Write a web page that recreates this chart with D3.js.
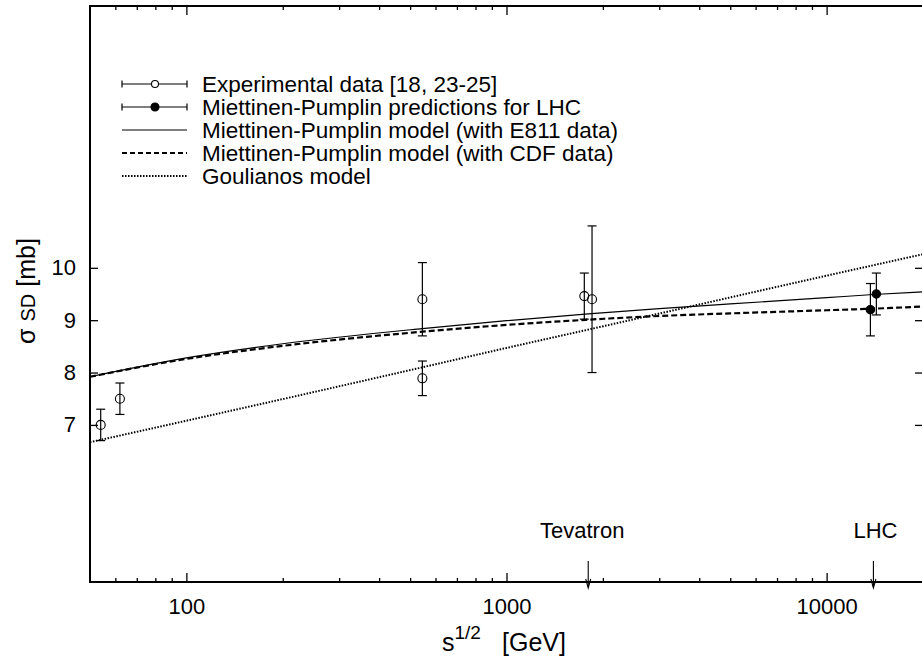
<!DOCTYPE html>
<html><head><meta charset="utf-8">
<script src="https://cdn.jsdelivr.net/npm/d3@7"></script>
<style>
body{margin:0;background:#fff}
svg{display:block}
text{font-family:"Liberation Sans",Arial,Helvetica,sans-serif;fill:#000}
</style>
</head><body>
<svg id="chart" width="922" height="663"></svg>
<script>
// ---------- data ----------
const xDomain = [50, 20000];
const yDomain = [4, 15];
const xMajorTicks = [100, 1000, 10000];
const xTickLabels = ["100", "1000", "10000"];
const xMinorTicks = [60, 70, 80, 90, 200, 300, 400, 500, 600, 700, 800, 900,
                     2000, 3000, 4000, 5000, 6000, 7000, 8000, 9000];
const yTicks = [7, 8, 9, 10];
const yTickLabels = ["7", "8", "9", "10"];

// Experimental data (open circles)
const expX   = [54, 62, 546, 546, 1750, 1850];
const expY   = [7.0, 7.5, 9.4, 7.89, 9.46, 9.4];
const expErr = [0.3, 0.3, 0.7, 0.33, 0.44, 1.4];

// Miettinen-Pumplin predictions for LHC (filled circles)
const lhcX   = [13700, 14300];
const lhcY   = [9.2, 9.5];
const lhcErr = [0.5, 0.4];

// Model curves
const mpE811X = [50, 100, 200, 546, 1000, 1800, 3000, 5000, 10000, 14000, 20000];
const mpE811Y = [7.92, 8.28, 8.55, 8.84, 8.99, 9.12, 9.22, 9.31, 9.43, 9.49, 9.54];
const mpCdfX  = [50, 100, 200, 546, 1000, 1800, 3000, 5000, 10000, 14000, 20000];
const mpCdfY  = [7.92, 8.26, 8.51, 8.78, 8.91, 9.01, 9.08, 9.13, 9.19, 9.22, 9.26];
const goulX   = [50, 100, 546, 1000, 1800, 10000, 20000];
const goulY   = [6.67, 7.08, 8.10, 8.47, 8.82, 9.85, 10.26];

const legendLabels = [
  "Experimental data [18, 23-25]",
  "Miettinen-Pumplin predictions for LHC",
  "Miettinen-Pumplin model (with E811 data)",
  "Miettinen-Pumplin model (with CDF data)",
  "Goulianos model"
];
const arrowLabels = ["Tevatron", "LHC"];
const arrowX = [1800, 14000];

// ---------- drawing ----------
const svg = d3.select("#chart");
const L = 90, R = 923, T = 6, B = 582;
const x = d3.scaleLog().domain(xDomain).range([L, R]);
const y = d3.scaleLinear().domain(yDomain).range([B, T]);

const FONT = '"Liberation Sans",Arial,Helvetica,sans-serif';
const TICKFS = 22;

function styleAxis(g, fs) {
  g.attr("font-family", FONT).attr("font-size", fs);
  g.select(".domain").remove();
  g.selectAll(".tick line").attr("stroke", "#000").attr("stroke-width", 1.3);
  g.selectAll(".tick text").attr("fill", "#000");
}

// bottom axis major
svg.append("g").attr("transform", `translate(0,${B})`)
  .call(d3.axisBottom(x).tickValues(xMajorTicks).tickFormat((d, i) => xTickLabels[i])
        .tickSizeInner(-9).tickSizeOuter(0).tickPadding(16))
  .call(g => styleAxis(g, TICKFS));
svg.append("g").attr("transform", `translate(0,${B})`)
  .call(d3.axisBottom(x).tickValues(xMinorTicks).tickFormat("").tickSizeInner(-4).tickSizeOuter(0))
  .call(g => styleAxis(g, TICKFS));
// top axis
svg.append("g").attr("transform", `translate(0,${T})`)
  .call(d3.axisTop(x).tickValues(xMajorTicks).tickFormat("").tickSizeInner(-9).tickSizeOuter(0))
  .call(g => styleAxis(g, TICKFS));
svg.append("g").attr("transform", `translate(0,${T})`)
  .call(d3.axisTop(x).tickValues(xMinorTicks).tickFormat("").tickSizeInner(-4).tickSizeOuter(0))
  .call(g => styleAxis(g, TICKFS));
// left axis
svg.append("g").attr("transform", `translate(${L},0)`)
  .call(d3.axisLeft(y).tickValues(yTicks).tickFormat((d, i) => yTickLabels[i])
        .tickSizeInner(-8).tickSizeOuter(0).tickPadding(14))
  .call(g => styleAxis(g, TICKFS));
// right axis
svg.append("g").attr("transform", `translate(${R},0)`)
  .call(d3.axisRight(y).tickValues(yTicks).tickFormat("").tickSizeInner(-8).tickSizeOuter(0))
  .call(g => styleAxis(g, TICKFS));

// frame
svg.append("rect").attr("x", L).attr("y", T).attr("width", R - L).attr("height", B - T)
  .attr("fill", "none").attr("stroke", "#000").attr("stroke-width", 2);

// curves
const line = d3.line().x(d => x(d[0])).y(d => y(d[1])).curve(d3.curveMonotoneX);
const plot = svg.append("g");
plot.append("path").datum(goulX.map((v, i) => [v, goulY[i]]))
  .attr("d", line).attr("fill", "none").attr("stroke", "#000")
  .attr("stroke-width", 2).attr("stroke-dasharray", "1.5,1.5");
plot.append("path").datum(mpE811X.map((v, i) => [v, mpE811Y[i]]))
  .attr("d", line).attr("fill", "none").attr("stroke", "#000").attr("stroke-width", 1.2);
plot.append("path").datum(mpCdfX.map((v, i) => [v, mpCdfY[i]]))
  .attr("d", line).attr("fill", "none").attr("stroke", "#000")
  .attr("stroke-width", 2.2).attr("stroke-dasharray", "6,3");

// error bars + points
function errPoints(xs, ys, es, filled) {
  const data = xs.map((v, i) => ({x: v, y: ys[i], e: es[i]}));
  const g = plot.append("g");
  const eb = g.selectAll(".eb").data(data).enter().append("g");
  eb.append("line").attr("x1", d => x(d.x)).attr("x2", d => x(d.x))
    .attr("y1", d => y(d.y + d.e)).attr("y2", d => y(d.y - d.e))
    .attr("stroke", "#000").attr("stroke-width", 1.2);
  [1, -1].forEach(s => {
    eb.append("line").attr("x1", d => x(d.x) - 4.5).attr("x2", d => x(d.x) + 4.5)
      .attr("y1", d => y(d.y + s * d.e)).attr("y2", d => y(d.y + s * d.e))
      .attr("stroke", "#000").attr("stroke-width", 1.2);
  });
  eb.append("circle").attr("cx", d => x(d.x)).attr("cy", d => y(d.y))
    .attr("r", filled ? 4.2 : 4.5)
    .attr("fill", filled ? "#000" : "none").attr("stroke", "#000").attr("stroke-width", 1.1);
}
errPoints(expX, expY, expErr, false);
errPoints(lhcX, lhcY, lhcErr, true);

// arrows
arrowX.forEach((v, i) => {
  const ax = x(v);
  svg.append("line").attr("x1", ax).attr("x2", ax).attr("y1", 561).attr("y2", 587)
    .attr("stroke", "#000").attr("stroke-width", 1.1);
  svg.append("path").attr("d", `M${ax - 2.5},${579} L${ax},${588} L${ax + 2.5},${579}`)
    .attr("fill", "none").attr("stroke", "#000").attr("stroke-width", 1.1);
  svg.append("text").attr("x", ax - (i === 0 ? 6 : -2)).attr("y", 538)
    .attr("text-anchor", "middle").attr("font-size", 22).text(arrowLabels[i]);
});

// legend
const lg = svg.append("g");
const rowY = i => 84 + 23 * i;
const lx1 = 122, lx2 = 187, lxc = 155;
legendLabels.forEach((t, i) => {
  const yy = rowY(i);
  lg.append("text").attr("x", 202).attr("y", yy + 7.8).attr("font-size", 22.5).text(t);
  if (i < 2) {
    lg.append("line").attr("x1", lx1).attr("x2", lx2).attr("y1", yy).attr("y2", yy)
      .attr("stroke", "#000").attr("stroke-width", 1.2);
    [lx1, lx2].forEach(xx => lg.append("line").attr("x1", xx).attr("x2", xx)
      .attr("y1", yy - 3.5).attr("y2", yy + 3.5).attr("stroke", "#000").attr("stroke-width", 1.2));
    lg.append("circle").attr("cx", lxc).attr("cy", yy).attr("r", i === 0 ? 3.5 : 4)
      .attr("fill", i === 0 ? "#fff" : "#000").attr("stroke", "#000").attr("stroke-width", 1.1);
  } else {
    const ln = lg.append("line").attr("x1", lx1).attr("x2", lx2).attr("y1", yy).attr("y2", yy)
      .attr("stroke", "#000");
    if (i === 2) ln.attr("stroke-width", 1.2);
    if (i === 3) ln.attr("stroke-width", 2.2).attr("stroke-dasharray", "5,3");
    if (i === 4) ln.attr("stroke-width", 2).attr("stroke-dasharray", "1.5,1.5");
  }
});

// axis titles
const xt = svg.append("text").attr("y", 651).attr("font-size", 25);
xt.append("tspan").attr("x", 442).text("s");
xt.append("tspan").attr("font-size", 19).attr("dy", -12).text("1/2");
xt.append("tspan").attr("x", 502).attr("dy", 12).text("[GeV]");

const yt = svg.append("text").attr("transform", "translate(35,291) rotate(-90)")
  .attr("text-anchor", "middle").attr("font-size", 25);
yt.append("tspan").text("σ ");
yt.append("tspan").attr("font-size", 20).text("SD");
yt.append("tspan").text(" [mb]");
</script>
</body></html>
